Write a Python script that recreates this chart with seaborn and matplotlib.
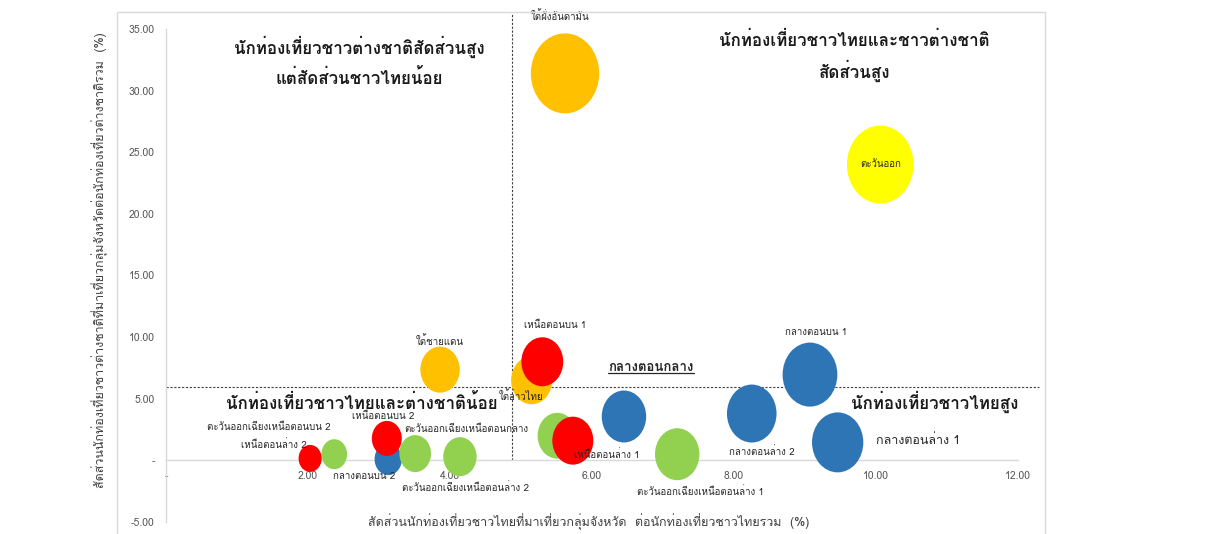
import numpy as np
import pandas as pd
import matplotlib
matplotlib.use("Agg")
import matplotlib.pyplot as plt
import seaborn as sns
from matplotlib.path import Path
from matplotlib.patches import Rectangle
from matplotlib.lines import Line2D
from matplotlib import font_manager
from matplotlib.ft2font import FT2Font

# ---------------- data ----------------
names = ["ตะวันออก", "ใต้ฝั่งอันดามัน", "ใต้ชายแดน", "ใต้อ่าวไทย",
         "กลางตอนกลาง", "กลางตอนบน 1", "กลางตอนล่าง 2", "กลางตอนล่าง 1", "กลางตอนบน 2",
         "ตะวันออกเฉียงเหนือตอนล่าง 1", "", "ตะวันออกเฉียงเหนือตอนบน 2",
         "ตะวันออกเฉียงเหนือตอนกลาง", "ตะวันออกเฉียงเหนือตอนล่าง 2",
         "เหนือตอนบน 1", "เหนือตอนล่าง 1", "เหนือตอนล่าง 2", "เหนือตอนบน 2"]
region = ["east", "south", "south", "south",
          "central", "central", "central", "central", "central",
          "northeast", "northeast", "northeast", "northeast", "northeast",
          "north", "north", "north", "north"]
thai_share = [10.06, 5.62, 3.86, 5.15,
              6.45, 9.07, 8.25, 9.46, 3.13,
              7.20, 5.51, 2.37, 3.51, 4.14,
              5.30, 5.73, 2.03, 3.11]
foreign_share = [24.0, 31.4, 7.36, 6.5,
                 3.56, 6.96, 3.80, 1.46, 0.10,
                 0.50, 2.00, 0.50, 0.55, 0.30,
                 8.00, 1.60, 0.16, 1.78]
bubble = [60.8, 64.0, 21.2, 23.0,
          27.0, 41.0, 33.6, 36.0, 10.2,
          27.0, 21.0, 9.0, 13.7, 15.2,
          24.0, 23.0, 7.3, 12.3]

palette = {"east": "#FFFF00", "south": "#FFC000", "central": "#2E75B6",
           "northeast": "#92D050", "north": "#FF0000"}

x_ticks = [0, 2, 4, 6, 8, 10, 12]
x_ticklabels = ["-", "2.00", "4.00", "6.00", "8.00", "10.00", "12.00"]
y_ticks = [-5, 0, 5, 10, 15, 20, 25, 30, 35]
y_ticklabels = ["-5.00", "-", "5.00", "10.00", "15.00", "20.00", "25.00", "30.00", "35.00"]

thai_avg = 4.87
foreign_avg = 5.97

quad_texts = ["นักท่องเที่ยวชาวต่างชาติสัดส่วนสูง\nแต่สัดส่วนชาวไทยน้อย",
              "นักท่องเที่ยวชาวไทยและชาวต่างชาติ\nสัดส่วนสูง",
              "นักท่องเที่ยวชาวไทยและต่างชาติน้อย",
              "นักท่องเที่ยวชาวไทยสูง"]

xlabel = "สัดส่วนนักท่องเที่ยวชาวไทยที่มาเที่ยวกลุ่มจังหวัด  ต่อนักท่องเที่ยวชาวไทยรวม  (%)"
ylabel = "สัดส่วนนักท่องเที่ยวชาวต่างชาติที่มาเที่ยวกลุ่มจังหวัดต่อนักท่องเที่ยวต่างชาติรวม  (%)"

# ---------------- fonts ----------------
sns.set_theme(style="white")
thai_fams = []
for f in font_manager.fontManager.ttflist:
    try:
        cm = FT2Font(f.fname).get_charmap()
        if 0x0E01 in cm and f.name not in thai_fams:
            thai_fams.append(f.name)
    except Exception:
        pass
fam = thai_fams[:1] + ["DejaVu Sans"]
plt.rcParams["font.family"] = fam

df = pd.DataFrame({"name": names, "region": region, "x": thai_share,
                   "y": foreign_share, "v": bubble})

fig = plt.figure(figsize=(12.21, 5.34), dpi=100)
ax = fig.add_axes([166 / 1221, 1 - 522 / 534, 852 / 1221, 493 / 534])

# chart area frame
fig.patches.append(Rectangle((117 / 1221, -0.02), (1045 - 117) / 1221, 1 - 12 / 534 + 0.02,
                             transform=fig.transFigure, fill=False,
                             edgecolor="#d9d9d9", linewidth=1.0, zorder=0))

# elliptical bubble marker
circ = Path.unit_circle()
ell = Path(circ.vertices * np.array([0.855, 1.0]), circ.codes)

k = 51.84
vmax = max(bubble)
sns.scatterplot(data=df, x="x", y="y", hue="region", palette=palette,
                size="v", sizes=(0, k * vmax), size_norm=(0, vmax),
                marker=ell, linewidth=0, alpha=1, legend=False, ax=ax, zorder=3)

ax.set_xlim(0, 12)
ax.set_ylim(-5, 35)
ax.set_xticks(x_ticks)
ax.set_xticklabels(x_ticklabels)
ax.set_yticks(y_ticks)
ax.set_yticklabels(y_ticklabels)
ax.tick_params(axis="both", length=0, labelsize=7.5, labelcolor="#595959")
ax.tick_params(axis="y", pad=8)
ax.tick_params(axis="x", pad=8)
ax.set_xlabel("")
ax.set_ylabel("")
for s in ["top", "right"]:
    ax.spines[s].set_visible(False)
ax.spines["bottom"].set_position(("data", 0))
for s in ["left", "bottom"]:
    ax.spines[s].set_color("#d9d9d9")
    ax.spines[s].set_linewidth(1.0)
ax.grid(False)
ax.set_facecolor("none")

# reference lines
ax.axvline(thai_avg, ymin=5 / 40, ymax=(36.3 + 5) / 40, color="#404040",
           linestyle=(0, (2, 1.5)), linewidth=0.8, clip_on=False, zorder=2)
ax.axhline(foreign_avg, xmin=0, xmax=12.3 / 12, color="#404040",
           linestyle=(0, (2, 1.5)), linewidth=0.8, clip_on=False, zorder=2)

# bubble labels (offset in pixels)
offsets = {"ตะวันออก": (0, 0), "ใต้ฝั่งอันดามัน": (-5, 57), "ใต้ชายแดน": (0, 29),
           "ใต้อ่าวไทย": (-11, -16), "กลางตอนบน 1": (6, 42),
           "กลางตอนล่าง 2": (10, -38), "กลางตอนล่าง 1": (80, 2),
           "กลางตอนบน 2": (-24, -17), "ตะวันออกเฉียงเหนือตอนล่าง 1": (23, -37),
           "ตะวันออกเฉียงเหนือตอนบน 2": (-65, 27), "ตะวันออกเฉียงเหนือตอนกลาง": (51, 24),
           "ตะวันออกเฉียงเหนือตอนล่าง 2": (6, -31), "เหนือตอนบน 1": (13, 36),
           "เหนือตอนล่าง 1": (34, -14), "เหนือตอนล่าง 2": (-36, 14),
           "เหนือตอนบน 2": (-4, 22)}
underlined = []
for n, xv, yv in zip(names, thai_share, foreign_share):
    if not n:
        continue
    if n == "กลางตอนกลาง":
        t = ax.annotate(n, (xv, yv), xytext=(27, 48), textcoords="offset pixels",
                        ha="center", va="center", fontsize=9.5, fontweight="bold",
                        color="#262626", zorder=5)
        underlined.append(t)
        continue
    dx, dy = offsets[n]
    fs = 9 if n == "กลางตอนล่าง 1" else 7
    ax.annotate(n, (xv, yv), xytext=(dx, dy), textcoords="offset pixels",
                ha="center", va="center", fontsize=fs, color="#262626", zorder=5)

# quadrant labels
qkw = dict(ha="center", va="center", fontsize=12.2, fontweight="bold",
           color="#1a1a1a", zorder=6, linespacing=1.6)
ax.text(2.72, 32.4, quad_texts[0], **qkw)
ax.text(9.70, 32.8, quad_texts[1], **qkw)
ax.text(2.76, 4.69, quad_texts[2], **qkw)
ax.text(10.83, 4.77, quad_texts[3], **qkw)

fig.text(100 / 1221, 1 - 260 / 534, ylabel, rotation=90, ha="center", va="center",
         fontsize=9, color="#404040")
fig.text(589 / 1221, 1 - 522 / 534, xlabel, ha="center", va="center",
         fontsize=9, color="#404040")

# underline for the emphasised label
fig.canvas.draw()
r = fig.canvas.get_renderer()
for t in underlined:
    bb = t.get_window_extent(r)
    yline = bb.y0 + 1
    fig.add_artist(Line2D([bb.x0 / 1221, bb.x1 / 1221], [yline / 534, yline / 534],
                          transform=fig.transFigure, color="#262626", linewidth=0.9))

fig.savefig("out.png", dpi=100)
